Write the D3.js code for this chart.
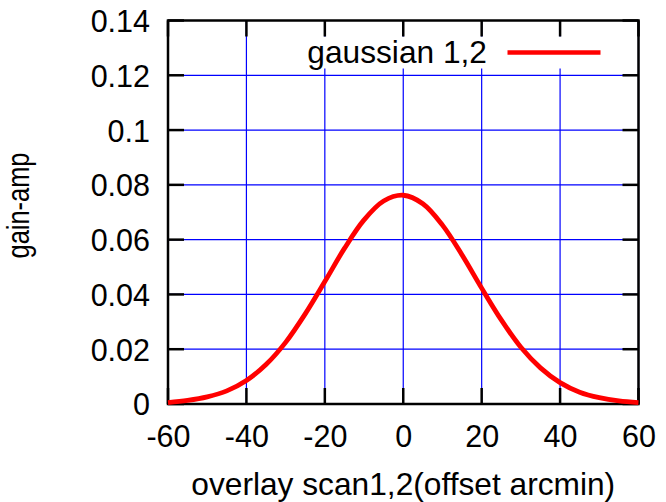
<!DOCTYPE html>
<html>
<head>
<meta charset="utf-8">
<script src="https://cdn.jsdelivr.net/npm/d3@7/dist/d3.min.js"></script>
<style>
    body { margin: 0; background: #fff; }
    text { font-family: "Liberation Sans", Arial, sans-serif; fill: #000; }
</style>
</head>
<body>
<div id="chart"></div>
<script>
// offsets (arcmin) and gain-amp values
var offsets = [-60, -55, -50, -45, -40, -35, -30, -25, -20, -15, -10, -5, 0,
               5, 10, 15, 20, 25, 30, 35, 40, 45, 50, 55, 60];
var gainAmp = [0.0005, 0.0013, 0.0026, 0.0048, 0.0086, 0.0144, 0.0225, 0.0329, 0.0447,
               0.0568, 0.0672, 0.0741, 0.0762, 0.0731, 0.0653, 0.0544, 0.0423, 0.0307,
               0.0207, 0.0132, 0.0078, 0.0043, 0.0023, 0.0011, 0.0005];
var xTicks = [-60, -40, -20, 0, 20, 40, 60];
var yTicks = [0, 0.02, 0.04, 0.06, 0.08, 0.1, 0.12, 0.14];
var legendLabel = "gaussian 1,2";

var W = 666, H = 502;
var margin = {top: 20.5, right: 27.5, bottom: 98, left: 168};
var width = W - margin.left - margin.right,
    height = H - margin.top - margin.bottom;
var tickLen = 16;

var svg = d3.select("#chart").append("svg")
    .attr("width", W)
    .attr("height", H);

var g = svg.append("g")
    .attr("transform", "translate(" + margin.left + "," + margin.top + ")");

var x = d3.scaleLinear().domain([-60, 60]).range([0, width]);
var y = d3.scaleLinear().domain([0, 0.14]).range([height, 0]);

// blue grid
g.selectAll("line.vgrid").data(xTicks).enter().append("line")
    .attr("x1", function(d) { return x(d); })
    .attr("x2", function(d) { return x(d); })
    .attr("y1", 0).attr("y2", height)
    .attr("stroke", "#0000ff").attr("stroke-width", 1.2);
g.selectAll("line.hgrid").data(yTicks).enter().append("line")
    .attr("x1", 0).attr("x2", width)
    .attr("y1", function(d) { return y(d); })
    .attr("y2", function(d) { return y(d); })
    .attr("stroke", "#0000ff").attr("stroke-width", 1.2);

// legend box hides the grid behind the key
g.append("rect")
    .attr("x", 132).attr("y", 16)
    .attr("width", 330).attr("height", 32)
    .attr("fill", "#fff");

// tick marks on all four sides, drawn inward
var tickG = g.append("g").attr("stroke", "#000").attr("stroke-width", 2.5);
xTicks.forEach(function(d) {
    tickG.append("line").attr("x1", x(d)).attr("x2", x(d))
        .attr("y1", height).attr("y2", height - tickLen);
    tickG.append("line").attr("x1", x(d)).attr("x2", x(d))
        .attr("y1", 0).attr("y2", tickLen);
});
yTicks.forEach(function(d) {
    tickG.append("line").attr("x1", 0).attr("x2", tickLen)
        .attr("y1", y(d)).attr("y2", y(d));
    tickG.append("line").attr("x1", width).attr("x2", width - tickLen)
        .attr("y1", y(d)).attr("y2", y(d));
});

// frame
g.append("rect")
    .attr("width", width).attr("height", height)
    .attr("fill", "none").attr("stroke", "#000").attr("stroke-width", 2.5);

// axis labels using the library axes, domain/tick lines removed
var xAxis = g.append("g")
    .attr("transform", "translate(0," + height + ")")
    .call(d3.axisBottom(x).tickValues(xTicks).tickSize(0).tickPadding(0)
        .tickFormat(function(d) { return String(d); }));  // plain hyphen, not unicode minus
xAxis.select(".domain").remove();
xAxis.selectAll("text")
    .attr("y", 43).attr("dy", null)
    .style("font-size", "30.5px").style("font-family", "Liberation Sans, Arial, sans-serif");

var yAxis = g.append("g")
    .call(d3.axisLeft(y).tickValues(yTicks).tickSize(0).tickPadding(0)
        .tickFormat(function(d) { return d === 0 ? "0" : String(+d.toFixed(2)); }));
yAxis.select(".domain").remove();
yAxis.selectAll("text")
    .attr("x", -18).attr("dy", "0.36em")
    .style("font-size", "30.5px").style("font-family", "Liberation Sans, Arial, sans-serif");

// the data curve
var line = d3.line()
    .x(function(d, i) { return x(offsets[i]); })
    .y(function(d) { return y(d); })
    .curve(d3.curveCatmullRom);

g.append("path")
    .datum(gainAmp)
    .attr("d", line)
    .attr("fill", "none")
    .attr("stroke", "#ff0000")
    .attr("stroke-width", 4.8)
    .attr("stroke-linejoin", "round");

// legend
g.append("text")
    .attr("x", 319).attr("y", 42.5)
    .attr("text-anchor", "end")
    .style("font-size", "31.7px")
    .text(legendLabel);
g.append("line")
    .attr("x1", 339.5).attr("x2", 432.5)
    .attr("y1", 32).attr("y2", 32)
    .attr("stroke", "#ff0000").attr("stroke-width", 4.5);

// axis titles
svg.append("text")
    .attr("x", margin.left + width / 2).attr("y", 494.5)
    .attr("text-anchor", "middle")
    .style("font-size", "31.7px")
    .text("overlay scan1,2(offset arcmin)");

// y title: glyphs look taller than their run length, so squeeze to measured length
svg.append("text")
    .attr("transform", "translate(28.5,205.5) rotate(-90)")
    .attr("text-anchor", "middle")
    .attr("textLength", 106)
    .attr("lengthAdjust", "spacingAndGlyphs")
    .style("font-size", "31px")
    .text("gain-amp");
</script>
</body>
</html>
